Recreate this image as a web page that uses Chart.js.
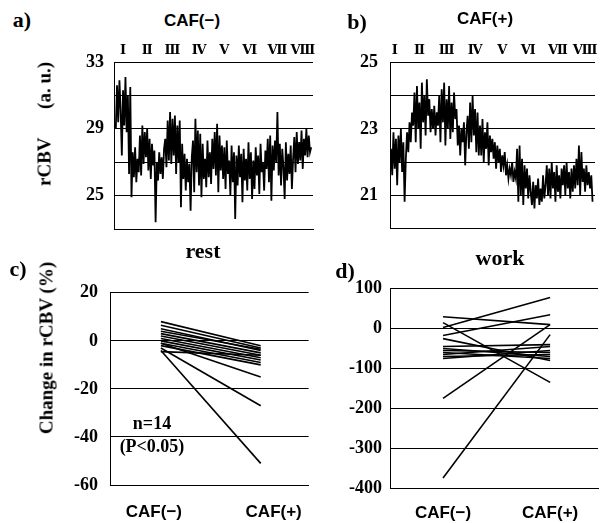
<!DOCTYPE html>
<html>
<head>
<meta charset="utf-8">
<script src="https://cdn.jsdelivr.net/npm/chart.js@4.4.0/dist/chart.umd.min.js"></script>
<style>
  body { margin: 0; background: #fff; width: 603px; height: 523px; position: relative; overflow: hidden; }
  canvas { position: absolute; }
  .t { position: absolute; font-family: 'Liberation Serif', 'Times New Roman', serif; font-weight: bold;
       color: #000; white-space: nowrap; transform: translate(-50%, -50%); line-height: 1; }
  .s { font-family: 'Liberation Sans', Arial, sans-serif; }
  .rot { transform: translate(-50%, -50%) rotate(-90deg); }
</style>
</head>
<body>
<canvas id="chartA" width="320" height="211" style="left:0;top:40px"></canvas>
<canvas id="chartB" width="303" height="211" style="left:300px;top:40px"></canvas>
<canvas id="chartC" width="320" height="253" style="left:0;top:270px"></canvas>
<canvas id="chartD" width="303" height="253" style="left:300px;top:270px"></canvas>

<div class="t" style="left:22px;top:20px;font-size:22px">a)</div>
<div class="t s" style="left:192px;top:20px;font-size:17px">CAF(−)</div>
<div class="t" style="left:357px;top:22px;font-size:22px">b)</div>
<div class="t s" style="left:485px;top:18px;font-size:17px">CAF(+)</div>
<div class="t rot" style="left:44px;top:124px;font-size:19px">rCBV&nbsp;&nbsp;&nbsp;&nbsp;&nbsp;&nbsp;(a. u.)</div>

<div class="t" style="left:203px;top:251px;font-size:22px">rest</div>
<div class="t" style="left:18px;top:269px;font-size:22px">c)</div>
<div class="t rot" style="left:46px;top:348px;font-size:19px">Change in rCBV (%)</div>
<div class="t" style="left:152px;top:423px;font-size:18px">n=14</div>
<div class="t" style="left:152px;top:446px;font-size:18px">(P&lt;0.05)</div>

<div class="t" style="left:500px;top:258px;font-size:22px">work</div>
<div class="t" style="left:345px;top:271px;font-size:22px">d)</div>

<script>
// ---- time courses, 8 task blocks ----
const blockLabels = ['Ⅰ', 'Ⅱ', 'Ⅲ', 'Ⅳ', 'Ⅴ', 'Ⅵ', 'Ⅶ', 'Ⅷ'];

// block starts (sample index) for each trace
const blockPosA = [6, 26, 47, 69, 90, 111, 134, 155];
const blockPosB = [3, 23, 45, 68, 90, 111, 135, 157];

// rCBV (a.u.), CAF(-)
const rcbvCafMinus = [
  29.0, 31.6, 29.4, 31.9, 30.1, 27.4, 31.3, 29.2, 32.1, 28.8, 31.0, 26.3, 31.5, 24.9,
  27.6, 26.1, 27.9, 25.8, 27.2, 26.4,
  28.6, 26.2, 29.2, 26.9, 28.8, 27.3, 29.0, 26.5, 28.4, 26.0, 28.1, 26.8, 27.7, 23.4,
  27.0, 25.9, 27.6, 26.3, 27.3, 26.0, 27.8,
  28.4, 26.7, 29.5, 27.1, 30.0, 26.9, 29.6, 27.4, 29.8, 26.3, 29.2, 27.0, 29.5, 24.3, 28.1,
  26.0, 27.5, 25.3, 27.2, 25.8, 26.9, 24.1, 27.3,
  28.3, 25.2, 29.6, 26.4, 28.9, 25.6, 28.7, 24.9, 28.1, 26.0,
  27.2, 25.5, 28.3, 26.1, 27.6, 25.7, 28.4, 26.6,
  28.8, 26.2, 29.3, 25.2, 28.6, 26.5, 28.0,
  26.0, 27.9, 25.4, 28.3, 26.3, 27.1, 25.0, 28.0, 25.8, 27.6, 23.6,
  27.4, 25.6, 28.0, 26.1, 27.5, 24.6, 27.8, 25.9, 27.2, 25.3, 28.2, 26.0, 27.6, 24.8, 27.1,
  25.4, 27.9, 26.2, 27.4, 25.1, 28.1, 26.4, 27.0, 25.3, 27.7,
  26.6, 28.4, 25.8, 28.6, 24.7, 28.0, 26.5, 28.3, 27.0, 30.0,
  26.2, 28.1, 25.6, 27.8, 26.7, 24.8, 28.2, 25.9, 27.5, 26.3, 28.0, 25.4,
  27.2, 28.5, 26.4, 28.8, 26.9, 28.2, 27.1, 28.9, 26.6, 28.4, 27.4, 29.0, 27.3, 28.6, 27.6, 27.9
];

// rCBV (a.u.), CAF(+)
const rcbvCafPlus = [
  22.4, 21.6, 22.9, 21.8, 22.7, 21.3, 22.8, 22.0, 23.0, 21.7, 22.6, 20.8,
  22.1, 22.9, 22.3, 23.2, 22.6, 23.5,
  23.1, 24.1, 22.6, 24.3, 23.0, 23.8, 22.4, 24.4, 23.2, 24.0, 22.8, 24.5, 23.4, 23.9, 22.9,
  23.6, 23.0, 23.7, 22.8, 23.5, 23.1,
  24.0, 22.6, 24.2, 23.2, 24.4, 22.5, 23.9, 23.0, 24.3, 22.7, 23.8, 22.9, 24.1, 23.3, 23.6,
  22.5, 23.1, 22.2, 23.0, 22.6, 23.2, 21.9, 22.9,
  23.4, 22.4, 23.8, 22.6, 24.0, 22.8, 23.6, 22.3, 23.5, 22.2,
  23.1, 22.2, 23.3, 22.0, 22.9, 22.4, 23.2, 21.9, 22.8, 22.3, 22.7,
  22.1, 22.6, 21.8, 22.5, 22.0, 22.4, 21.7, 22.2, 21.9, 22.3, 21.6,
  21.9, 21.5, 21.8, 21.6, 22.0, 21.4, 21.7, 21.5,
  22.4, 20.8, 22.5, 21.0, 22.1, 20.7, 21.9, 21.2, 21.8, 20.9, 21.6, 21.1,
  20.7, 21.4, 20.6, 21.3, 20.9, 21.5, 20.7, 21.2, 20.8, 21.6, 20.9, 21.3,
  21.9, 21.0, 21.8, 20.9, 22.0, 21.2, 21.7, 20.8, 21.9, 21.1, 21.6, 20.9,
  21.8, 21.3, 21.9, 21.0, 22.0, 21.2, 21.7, 20.9, 21.8, 21.1, 21.9, 21.2,
  22.1, 21.3, 22.5, 21.0, 22.3, 21.4,
  21.8, 21.1, 21.9, 21.3, 21.7, 21.2, 21.6, 20.8
];

// ---- change in rCBV (%), 14 subjects ----
const groupLabels = ['CAF(−)', 'CAF(+)'];

const restCafMinus = [8, 6.5, 5, 4, 3, 2, 1, 0, -1, -2, -4.5, -1, -3, -4];
const restCafPlus  = [-2, -3, -4, -3.5, -5, -6, -7, -8, -9, -10, -6, -15, -27, -51];

const workCafMinus = [30, 15, 3, -17, -25, -45, -50, -55, -60, -65, -70, -75, -175, -375];
const workCafPlus  = [10, -135, 78, 35, -80, -40, -70, -60, -75, -45, -65, -55, 10, -15];

const SERIF = "'Liberation Serif', 'DejaVu Serif', serif";
const SANS = "'Liberation Sans', Arial, sans-serif";

Chart.defaults.font.family = SERIF;
Chart.defaults.font.weight = 'bold';
Chart.defaults.color = '#000';

function buildTimeCourse(id, values, blockPos, cfg) {
  const points = values.map((v, i) => ({ x: i, y: v }));
  return new Chart(document.getElementById(id), {
    type: 'line',
    data: {
      datasets: [{
        data: points,
        borderColor: '#000',
        borderWidth: 1.8,
        pointRadius: 0,
        tension: 0
      }]
    },
    options: {
      responsive: false,
      animation: false,
      layout: { padding: { top: 0, right: cfg.padRight, bottom: 0, left: 0 } },
      plugins: { legend: { display: false }, tooltip: { enabled: false } },
      scales: {
        x: {
          type: 'linear',
          min: cfg.xMin,
          max: cfg.xMax,
          ticks: { display: false },
          grid: { display: false, drawTicks: false },
          border: { display: true, color: '#000', width: 1 },
          afterFit: s => { s.height = 22; }
        },
        xTop: {
          type: 'linear',
          position: 'top',
          min: cfg.xMin,
          max: cfg.xMax,
          grid: { display: false, drawTicks: false },
          border: { display: false },
          ticks: {
            padding: 4,
            maxRotation: 0,
            autoSkip: false,
            font: { size: 13, weight: 'bold', family: "'DejaVu Serif', serif" },
            callback: (v, i) => blockLabels[i]
          },
          afterBuildTicks: s => { s.ticks = blockPos.map(v => ({ value: v })); },
          afterFit: s => { s.height = 22; }
        },
        y: {
          min: cfg.yMin,
          max: cfg.yMax,
          ticks: {
            stepSize: cfg.step,
            padding: cfg.tickPad,
            font: { size: 18, weight: 'bold' },
            callback: v => (cfg.labelled.includes(v) ? String(v) : '')
          },
          grid: { color: '#000', lineWidth: 1, drawTicks: false },
          border: { display: true, color: '#000', width: 1 },
          afterFit: s => { s.width = cfg.yWidth; }
        }
      }
    }
  });
}

function buildPaired(id, pre, post, cfg) {
  const datasets = pre.map((v, i) => ({
    data: [{ x: 0, y: v }, { x: 1, y: post[i] }],
    borderColor: '#000',
    borderWidth: 1.6,
    pointRadius: 0,
    tension: 0
  }));
  return new Chart(document.getElementById(id), {
    type: 'line',
    data: { datasets },
    options: {
      responsive: false,
      animation: false,
      layout: { padding: { top: cfg.padTop, right: cfg.padRight, bottom: 0, left: 0 } },
      plugins: { legend: { display: false }, tooltip: { enabled: false } },
      scales: {
        x: {
          type: 'linear',
          min: cfg.xMin,
          max: cfg.xMax,
          grid: { display: false, drawTicks: false },
          border: { display: true, color: '#000', width: 1 },
          ticks: {
            padding: cfg.xPad,
            maxRotation: 0,
            autoSkip: false,
            font: { size: 17, weight: 'bold', family: SANS },
            callback: (v, i) => groupLabels[i]
          },
          afterBuildTicks: s => { s.ticks = cfg.xTicks.map(v => ({ value: v })); },
          afterFit: s => { s.height = cfg.xHeight; }
        },
        y: {
          min: cfg.yMin,
          max: cfg.yMax,
          ticks: {
            stepSize: cfg.step,
            padding: cfg.tickPad,
            font: { size: 18, weight: 'bold' },
            callback: v => (v % cfg.labelStep === 0 ? String(v) : '')
          },
          grid: { color: '#000', lineWidth: 1, drawTicks: false },
          border: { display: true, color: '#000', width: 1 },
          afterFit: s => { s.width = cfg.yWidth; }
        }
      }
    }
  });
}

buildTimeCourse('chartA', rcbvCafMinus, blockPosA, {
  xMin: -1.5, xMax: 163.5, yMin: 23, yMax: 33, step: 2, labelled: [33, 29, 25],
  yWidth: 114, tickPad: 10, padRight: 7
});

buildTimeCourse('chartB', rcbvCafPlus, blockPosB, {
  xMin: -0.8, xMax: 165, yMin: 20, yMax: 25, step: 1, labelled: [25, 23, 21],
  yWidth: 90, tickPad: 12, padRight: 8
});

buildPaired('chartC', restCafMinus, restCafPlus, {
  xMin: -0.51, xMax: 1.48, xTicks: [-0.07, 1.13], yMin: -60, yMax: 20, step: 10, labelStep: 20,
  yWidth: 110, tickPad: 12, padRight: 7, padTop: 12, xHeight: 38, xPad: 17
});

buildPaired('chartD', workCafMinus, workCafPlus, {
  xMin: -0.495, xMax: 1.447, xTicks: [0, 1], yMin: -400, yMax: 100, step: 50, labelStep: 100,
  yWidth: 90, tickPad: 8, padRight: 5, padTop: 18, xHeight: 35, xPad: 15
});
</script>
</body>
</html>
